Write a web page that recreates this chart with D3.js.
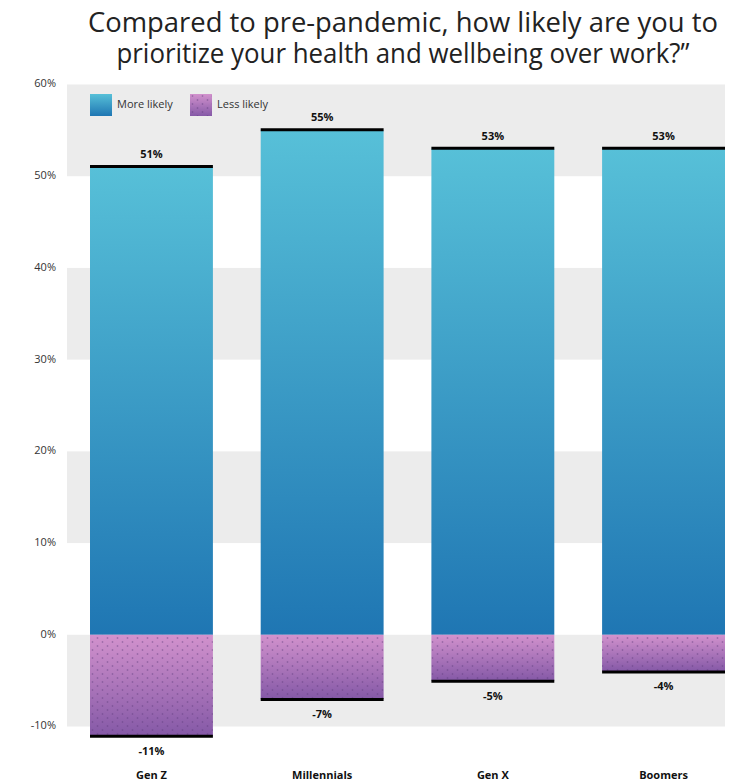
<!DOCTYPE html>
<html>
<head>
<meta charset="utf-8">
<script src="https://cdn.jsdelivr.net/npm/d3@7"></script>
<style>
  body { margin: 0; background: #fff; }
  svg { display: block; font-family: "Open Sans", "Noto Sans", sans-serif; }
</style>
</head>
<body>
<div id="chart"></div>
<script>
// Data
const categories = ["Gen Z", "Millennials", "Gen X", "Boomers"];
const moreLikely = [51, 55, 53, 53];
const lessLikely = [-11, -7, -5, -4];
const yTicks = [-10, 0, 10, 20, 30, 40, 50, 60];
const seriesNames = ["More likely", "Less likely"];
const titleLines = [
  "Compared to pre-pandemic, how likely are you to",
  "prioritize your health and wellbeing over work?\u201d"
];

// Dimensions
const width = 739;
const height = 783;

const svg = d3.select("#chart")
  .append("svg")
    .attr("width", width)
    .attr("height", height);

// Scales
const y = d3.scaleLinear()
  .domain([-10, 60])
  .range([726.5, 84.5]);
const x = d3.scaleBand()
  .domain(categories)
  .range([90, 725])
  .paddingInner(0.28)
  .paddingOuter(0);

// Gradients and dot pattern
const defs = svg.append("defs");
const blueGrad = defs.append("linearGradient")
  .attr("id", "blue-grad")
  .attr("x1", 0).attr("y1", 0).attr("x2", 0).attr("y2", 1);
blueGrad.append("stop").attr("offset", "0%").attr("stop-color", "#57c0d8");
blueGrad.append("stop").attr("offset", "100%").attr("stop-color", "#1f76b3");

const purpleGrad = defs.append("linearGradient")
  .attr("id", "purple-grad")
  .attr("x1", 0).attr("y1", 0).attr("x2", 0).attr("y2", 1);
purpleGrad.append("stop").attr("offset", "0%").attr("stop-color", "#d292cd");
purpleGrad.append("stop").attr("offset", "100%").attr("stop-color", "#8559a7");

const dots = defs.append("pattern")
  .attr("id", "dots")
  .attr("patternUnits", "userSpaceOnUse")
  .attr("width", 10)
  .attr("height", 8);
dots.append("circle").attr("cx", 2.5).attr("cy", 2).attr("r", 0.9).attr("fill", "#5a3a78").attr("opacity", 0.4);
dots.append("circle").attr("cx", 7.5).attr("cy", 6).attr("r", 0.9).attr("fill", "#5a3a78").attr("opacity", 0.4);

// Title
const titleWidths = [630, 573];
svg.append("g")
    .attr("fill", "#222")
    .attr("font-size", 28)
    .attr("text-anchor", "middle")
  .selectAll("text")
  .data(titleLines)
  .join("text")
    .attr("x", 403)
    .attr("y", (d, i) => 32 + i * 31)
    .attr("textLength", (d, i) => titleWidths[i])
    .attr("lengthAdjust", "spacingAndGlyphs")
    .text(d => d);

// Background bands
const bandStarts = [50, 30, 10, -10];
svg.append("g")
  .selectAll("rect")
  .data(bandStarts)
  .join("rect")
    .attr("x", 67)
    .attr("width", 725 - 67)
    .attr("y", d => y(d + 10))
    .attr("height", d => y(d) - y(d + 10))
    .attr("fill", "#ececec");

// Y axis labels
svg.append("g")
    .attr("font-size", 11)
    .attr("fill", "#333")
    .attr("text-anchor", "end")
    .attr("dominant-baseline", "middle")
  .selectAll("text")
  .data(yTicks)
  .join("text")
    .attr("x", 56)
    .attr("y", d => y(d))
    .text(d => d + "%");

// Bars
const posData = categories.map((c, i) => ({ cat: c, value: moreLikely[i] }));
const negData = categories.map((c, i) => ({ cat: c, value: lessLikely[i] }));

svg.append("g")
  .selectAll("rect")
  .data(posData)
  .join("rect")
    .attr("x", d => x(d.cat))
    .attr("y", d => y(d.value))
    .attr("width", x.bandwidth())
    .attr("height", d => y(0) - y(d.value))
    .attr("fill", "url(#blue-grad)");

const negBars = svg.append("g");
negBars.selectAll(".neg-fill")
  .data(negData)
  .join("rect")
    .attr("class", "neg-fill")
    .attr("x", d => x(d.cat))
    .attr("y", y(0))
    .attr("width", x.bandwidth())
    .attr("height", d => y(d.value) - y(0))
    .attr("fill", "url(#purple-grad)");
negBars.selectAll(".neg-dots")
  .data(negData)
  .join("rect")
    .attr("class", "neg-dots")
    .attr("x", d => x(d.cat))
    .attr("y", y(0))
    .attr("width", x.bandwidth())
    .attr("height", d => y(d.value) - y(0))
    .attr("fill", "url(#dots)");

// Black caps at bar ends
svg.append("g")
    .attr("stroke", "#000")
    .attr("stroke-width", 3)
  .selectAll("line")
  .data(posData.concat(negData))
  .join("line")
    .attr("x1", d => x(d.cat))
    .attr("x2", d => x(d.cat) + x.bandwidth())
    .attr("y1", d => y(d.value) + (d.value > 0 ? -0.5 : 0.5))
    .attr("y2", d => y(d.value) + (d.value > 0 ? -0.5 : 0.5));

// Value labels
svg.append("g")
    .attr("font-size", 11)
    .attr("font-weight", "bold")
    .attr("fill", "#111")
    .attr("text-anchor", "middle")
  .selectAll("text")
  .data(posData.concat(negData))
  .join("text")
    .attr("x", d => x(d.cat) + x.bandwidth() / 2)
    .attr("y", d => d.value > 0 ? y(d.value) - 9 : y(d.value) + 19)
    .text(d => d.value + "%");

// Category labels
svg.append("g")
    .attr("font-size", 11)
    .attr("font-weight", "bold")
    .attr("fill", "#111")
    .attr("text-anchor", "middle")
  .selectAll("text")
  .data(categories)
  .join("text")
    .attr("x", d => x(d) + x.bandwidth() / 2)
    .attr("y", 779)
    .text(d => d);

// Legend
const legend = svg.append("g")
  .selectAll("g")
  .data(seriesNames)
  .join("g")
    .attr("transform", (d, i) => `translate(${90 + i * 100}, 94)`);
legend.append("rect")
    .attr("width", 22)
    .attr("height", 22)
    .attr("fill", (d, i) => i === 0 ? "url(#blue-grad)" : "url(#purple-grad)");
legend.filter((d, i) => i === 1)
  .append("rect")
    .attr("width", 22)
    .attr("height", 22)
    .attr("fill", "url(#dots)");
legend.append("text")
    .attr("x", 27)
    .attr("y", 11)
    .attr("dominant-baseline", "middle")
    .attr("font-size", 11)
    .attr("fill", "#333")
    .text(d => d);
</script>
</body>
</html>
